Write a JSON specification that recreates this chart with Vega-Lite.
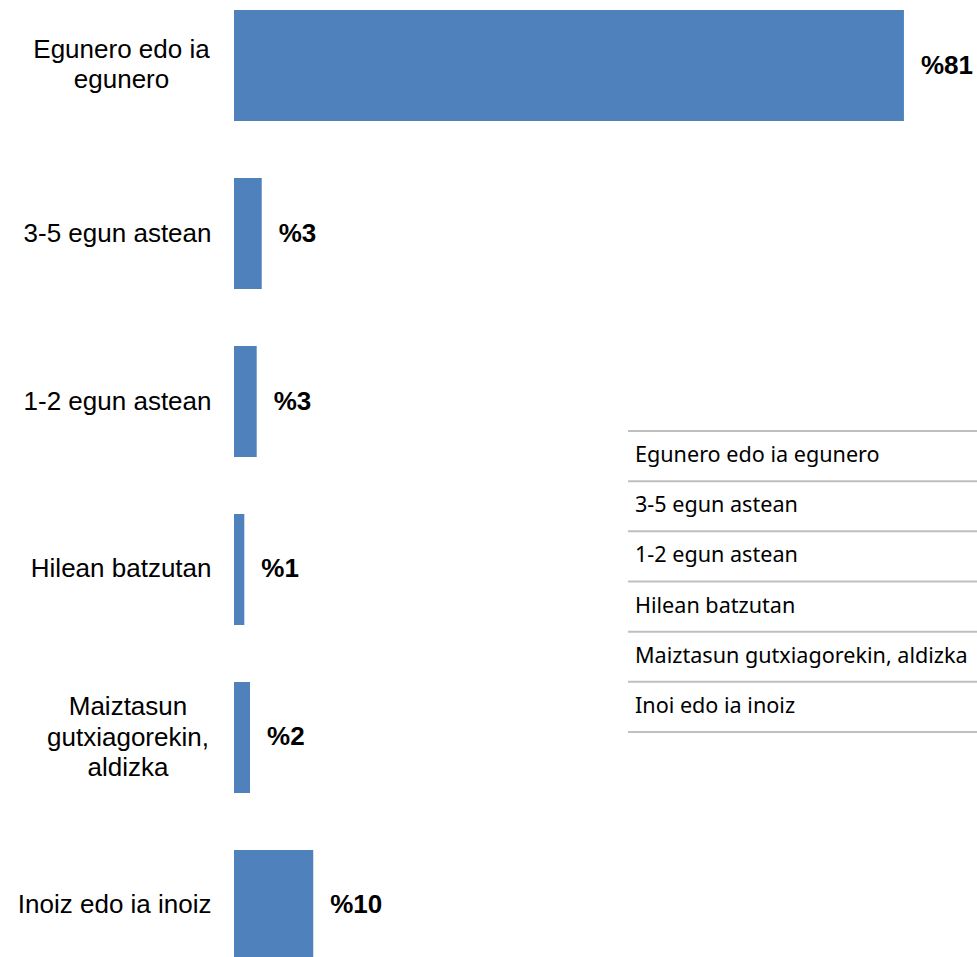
{
  "$schema": "https://vega.github.io/schema/vega-lite/v6.json",
  "autosize": {"type": "none"},
  "padding": {"left": 234, "top": 0, "right": 0, "bottom": 0},
  "width": 743,
  "height": 957,
  "background": "white",
  "config": {"view": {"stroke": null}},
  "datasets": {
    "bars": [
      {"cat": "Egunero edo ia egunero", "value": 81.15, "label": "%81"},
      {"cat": "3-5 egun astean", "value": 3.36, "label": "%3"},
      {"cat": "1-2 egun astean", "value": 2.75, "label": "%3"},
      {"cat": "Hilean batzutan", "value": 1.25, "label": "%1"},
      {"cat": "Maiztasun gutxiagorekin, aldizka", "value": 1.94, "label": "%2"},
      {"cat": "Inoiz edo ia inoiz", "value": 9.6, "label": "%10"}
    ],
    "table": [
      {"row": "Egunero edo ia egunero"},
      {"row": " 3-5 egun astean"},
      {"row": "1-2 egun astean"},
      {"row": "Hilean batzutan"},
      {"row": "Maiztasun gutxiagorekin, aldizka"},
      {"row": "Inoi edo ia inoiz"}
    ]
  },
  "layer": [
    {
      "data": {"name": "bars"},
      "encoding": {
        "y": {
          "field": "cat",
          "type": "nominal",
          "sort": null,
          "scale": {"range": [0, 971], "paddingInner": 0.339, "paddingOuter": 0.0595},
          "axis": {
            "title": null,
            "domain": false,
            "ticks": false,
            "labelFont": "Liberation Sans",
            "labelFontSize": 26,
            "labelColor": "#000000",
            "labelLineHeight": 30.5,
            "labelLimit": 400,
            "labelBaseline": "middle",
            "labelExpr": "datum.value == 'Egunero edo ia egunero' ? ['Egunero edo ia', 'egunero'] : datum.value == 'Maiztasun gutxiagorekin, aldizka' ? ['Maiztasun', 'gutxiagorekin,', 'aldizka'] : datum.value",
            "labelAlign": {"condition": {"test": "datum.value == 'Egunero edo ia egunero' || datum.value == 'Maiztasun gutxiagorekin, aldizka'", "value": "center"}, "value": "right"},
            "labelPadding": {"condition": [{"test": "datum.value == 'Egunero edo ia egunero'", "value": 113}, {"test": "datum.value == 'Maiztasun gutxiagorekin, aldizka'", "value": 106.5}], "value": 23},
            "labelOffset": {"condition": [{"test": "datum.value == 'Egunero edo ia egunero'", "value": -16}, {"test": "datum.value == 'Maiztasun gutxiagorekin, aldizka'", "value": -30}], "value": 0}
          }
        },
        "x": {
          "field": "value",
          "type": "quantitative",
          "scale": {"domain": [0, 90], "nice": false},
          "axis": null
        }
      },
      "layer": [
        {"mark": {"type": "bar", "color": "#4f81bd"}},
        {
          "mark": {"type": "text", "align": "left", "baseline": "middle", "dx": 17, "font": "Liberation Sans", "fontSize": 26, "fontWeight": "bold", "color": "#000000"},
          "encoding": {"text": {"field": "label"}}
        }
      ]
    },
    {
      "data": {"name": "table"},
      "encoding": {
        "y": {
          "field": "row",
          "type": "nominal",
          "sort": null,
          "scale": {"range": [431, 732], "paddingInner": 0, "paddingOuter": 0},
          "axis": null
        }
      },
      "layer": [
        {
          "mark": {"type": "rule", "color": "#bfbfbf", "strokeWidth": 2},
          "encoding": {
            "y": {"field": "row", "type": "nominal", "sort": null, "bandPosition": 0},
            "x": {"datum": 47.72, "type": "quantitative"},
            "x2": {"datum": 90}
          }
        },
        {
          "transform": [{"filter": "datum.row == 'Inoi edo ia inoiz'"}],
          "mark": {"type": "rule", "color": "#bfbfbf", "strokeWidth": 2},
          "encoding": {
            "y": {"field": "row", "type": "nominal", "sort": null, "bandPosition": 1},
            "x": {"datum": 47.72, "type": "quantitative"},
            "x2": {"datum": 90}
          }
        },
        {
          "mark": {"type": "text", "align": "left", "baseline": "middle", "font": "Noto Sans", "fontSize": 21.6, "color": "#000000"},
          "encoding": {
            "x": {"datum": 48.57, "type": "quantitative"},
            "text": {"field": "row"}
          }
        }
      ]
    }
  ],
  "resolve": {"scale": {"y": "independent"}, "axis": {"y": "independent"}}
}
